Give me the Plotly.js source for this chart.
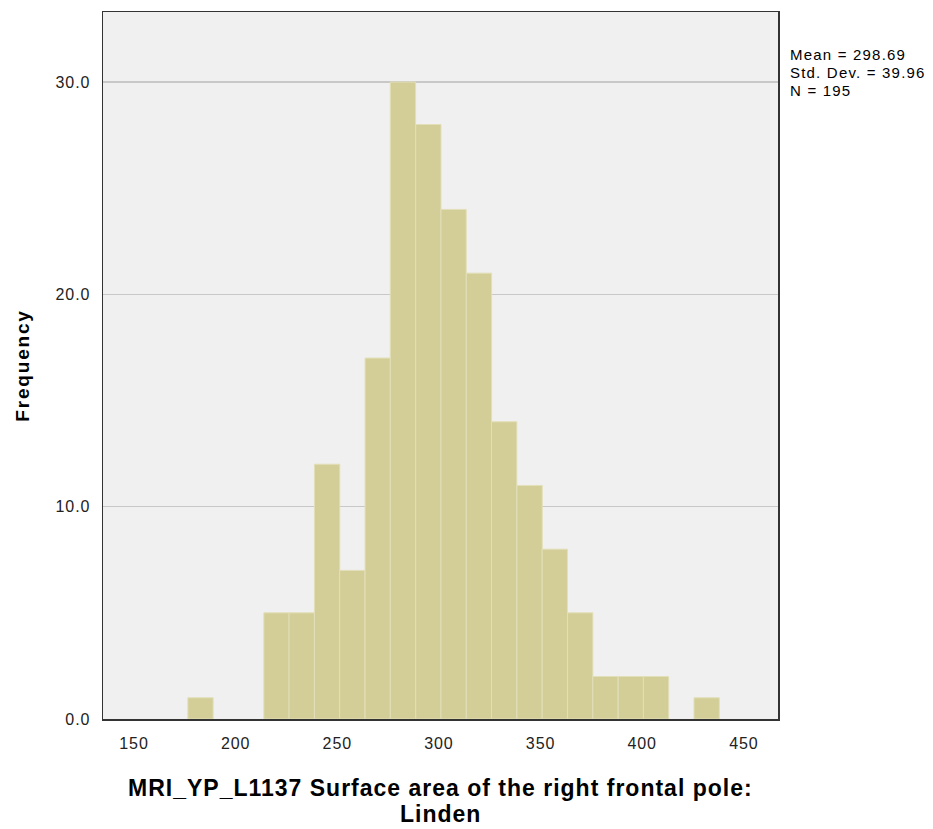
<!DOCTYPE html>
<html>
<head>
<meta charset="utf-8">
<script src="https://cdn.plot.ly/plotly-3.0.1.min.js"></script>
<style>
html,body{margin:0;padding:0;background:#fff;}
#chart{width:933px;height:829px;}
#chart .xtick text, #chart .ytick text{letter-spacing:0.9px;}
#chart .annotation-text-g text.stat{letter-spacing:1.2px;}
#chart text.ytitle{letter-spacing:1.8px;}
#chart .annotation-text-g text.xt{letter-spacing:1px;}
</style>
</head>
<body>
<div id="chart"></div>
<script>
// Histogram bins (centers) and frequencies
var binCenters = [182.7, 195.2, 207.6, 220.1, 232.5, 245.0, 257.4, 269.9, 282.3, 294.8, 307.2, 319.7, 332.1, 344.6, 357.0, 369.5, 381.9, 394.4, 406.8, 419.3, 431.7];
var counts     = [1, 0, 0, 5, 5, 12, 7, 17, 30, 28, 24, 21, 14, 11, 8, 5, 2, 2, 2, 0, 1];
var binWidth = 12.45;
var xTicks = [150, 200, 250, 300, 350, 400, 450];
var yTicks = [0, 10, 20, 30];
var statsText = ["Mean = 298.69", "Std. Dev. = 39.96", "N = 195"];
var xTitleLines = ["MRI_YP_L1137 Surface area of the right frontal pole:", "Linden"];
var yTitle = "Frequency";

var FONT = "Liberation Sans, Arial, sans-serif";

var trace = {
  type: "bar",
  x: binCenters,
  y: counts,
  width: binCenters.map(function(){return binWidth;}),
  marker: {color: "#d3ce97", line: {color: "#e2dfb8", width: counts.map(function(c){return c > 0 ? 1 : 0;})}},
  hoverinfo: "x+y"
};

var plotTop = 12, plotBottom = 719, plotH = plotBottom - plotTop;
function py(p){ return (plotBottom - p) / plotH; }

var annotations = [];
var statY = [55, 73, 90];
statsText.forEach(function(t, i){
  annotations.push({
    xref: "paper", yref: "paper",
    x: 1.0, xshift: 10, y: py(statY[i]), xanchor: "left", yanchor: "middle",
    align: "left", showarrow: false,
    text: t, font: {size: 15, color: "#000", family: FONT}
  });
});
var titleY = [788, 814];
xTitleLines.forEach(function(t, i){
  annotations.push({
    xref: "paper", yref: "paper",
    x: 0.5, xshift: 0, y: py(titleY[i]), xanchor: "center", yanchor: "middle",
    showarrow: false,
    text: "<b>" + t + "</b>", font: {size: 23, color: "#000", family: FONT}
  });
});

var layout = {
  width: 933, height: 829,
  margin: {l: 103, r: 155, t: plotTop, b: 829 - plotBottom},
  paper_bgcolor: "#ffffff",
  plot_bgcolor: "#f0f0f0",
  showlegend: false,
  bargap: 0,
  font: {family: FONT, color: "#222"},
  xaxis: {
    range: [134.75, 466.8],
    tickvals: xTicks,
    ticktext: xTicks.map(String),
    showgrid: false, zeroline: false,
    showline: true, linecolor: "#333", linewidth: 1.5, mirror: true,
    ticks: "", ticklabelstandoff: 9, tickfont: {size: 16, color: "#222"}
  },
  yaxis: {
    range: [0, 33.3],
    tickvals: yTicks,
    ticktext: yTicks.map(function(v){return v.toFixed(1);}),
    showgrid: true, gridcolor: "#c8c8c8", gridwidth: 1.5, zeroline: false,
    showline: true, linecolor: "#333", linewidth: 1.5, mirror: true,
    ticks: "", ticklabelstandoff: 8, tickfont: {size: 16, color: "#222"},
    title: {text: yTitle, font: {size: 19, color: "#000", family: FONT, weight: "bold"}, standoff: 24}
  },
  annotations: annotations
};

Plotly.newPlot("chart", [trace], layout, {displayModeBar: false, staticPlot: true}).then(function(){
  var texts = document.querySelectorAll("#chart .annotation-text-g text");
  for (var i = 0; i < texts.length; i++) texts[i].classList.add(i < statsText.length ? "stat" : "xt");
});
</script>
</body>
</html>
